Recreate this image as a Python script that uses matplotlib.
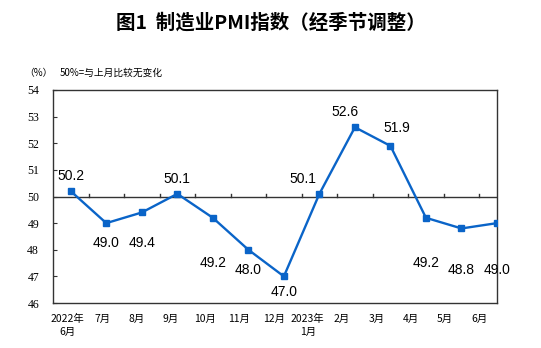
import numpy as np
import matplotlib
matplotlib.use("Agg")
from matplotlib import pyplot as plt

plt.rcParams['font.family'] = ['Noto Sans CJK SC', 'DejaVu Sans']

# data
months = ['2022年\n6月', '7月', '8月', '9月', '10月', '11月', '12月',
          '2023年\n1月', '2月', '3月', '4月', '5月', '6月']
pmi = [50.2, 49.0, 49.4, 50.1, 49.2, 48.0, 47.0, 50.1, 52.6, 51.9, 49.2, 48.8, 49.0]
# label offsets (pixels) for each value label
lab_off = [(0, 15), (0, -20), (0, -31), (0, 15), (0, -45), (0, -20), (0, -16),
           (-17, 15), (-10, 15), (6, 18), (0, -45), (0, -42), (0, -47)]

fig = plt.figure(figsize=(5.41, 3.48), dpi=100)
ax = fig.add_axes([53/541, 45/348, 444/541, 213/348])

x = np.arange(len(pmi))
ax.plot(x, pmi, color='#0a64c8', lw=1.7, marker='s', ms=4.5, zorder=3)
for xi, v, off in zip(x, pmi, lab_off):
    ax.annotate(f'{v:.1f}', (xi, v), xytext=off, textcoords='offset pixels',
                ha='center', va='center', fontsize=10, family='Liberation Sans')

# 50 reference line with small ticks between months
ax.axhline(50, color='#333333', lw=1.0, zorder=2)
for t in np.arange(0.5, 12, 1):
    ax.plot([t, t], [50, 50.1], color='#333333', lw=1.0, zorder=2)

ax.set_xlim(-0.5, 12)
ax.set_ylim(46, 54)
ax.set_yticks(range(46, 55))
ax.set_yticklabels([str(v) for v in range(46, 55)], family='Liberation Serif', fontsize=8.5)
ax.tick_params(axis='y', direction='in', length=3, pad=10, color='#333333')
lpos = -0.08 + np.arange(len(months)) * 0.965
ax.set_xticks(lpos)
ax.set_xticklabels(months, fontsize=7.5, linespacing=1.4)
ax.tick_params(axis='x', length=0, pad=8)
for s in ax.spines.values():
    s.set_color('#333333')
    s.set_linewidth(1.0)

fig.text(0.5, 1 - 23/348, '图1  制造业PMI指数（经季节调整）', ha='center', va='center',
         fontsize=14, fontweight='bold')
fig.text(24/541, 1 - 73/348, '（%）', ha='left', va='center', fontsize=7)
fig.text(60/541, 1 - 73/348, '50%=与上月比较无变化', ha='left', va='center', fontsize=7)

fig.savefig('out.png', dpi=100)
